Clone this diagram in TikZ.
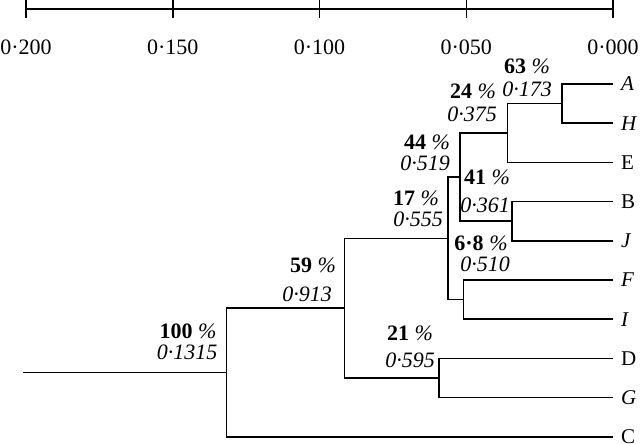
\documentclass[tikz,border=0pt]{standalone}
\usepackage{fontspec}
\setmainfont{Liberation Serif}
\begin{document}
\begin{tikzpicture}[x=1pt,y=-1pt,
  br/.style={line width=1.5pt},
  leaf/.style={anchor=west,inner xsep=8pt,inner ysep=0pt,font=\fontsize{21}{23}\selectfont},
  lab/.style={inner sep=0pt,font=\fontsize{22}{24}\selectfont},
  ax/.style={inner sep=0pt,font=\fontsize{22}{24}\selectfont}]
\useasboundingbox (0,0) rectangle (640,444);
% axis
\coordinate (a0) at (26,9);
\coordinate (a1) at (172.8,9);
\coordinate (a2) at (319.5,9);
\coordinate (a3) at (466.3,9);
\coordinate (a4) at (613,9);
\draw[br] (a0) -- (a4);
\foreach \i in {0,...,4}{\draw[br] ([yshift=9pt]a\i) -- ([yshift=-9pt]a\i);}
\node[ax] (t0) at (26,47) {0·200};
\node[ax] (t1) at (172.8,47) {0·150};
\node[ax] (t2) at (319.5,47) {0·100};
\node[ax] (t3) at (466.3,47) {0·050};
\node[ax] (t4) at (613,47) {0·000};
% leaves
\node[leaf] (A) at (613,84) {\textit{A}};
\node[leaf] (H) at (613,123.2) {\textit{H}};
\node[leaf] (E) at (613,162.4) {E};
\node[leaf] (B) at (613,201.6) {B};
\node[leaf] (J) at (613,240.8) {\textit{J}};
\node[leaf] (F) at (613,280) {\textit{F}};
\node[leaf] (I) at (613,319.2) {\textit{I}};
\node[leaf] (D) at (613,358.4) {D};
\node[leaf] (G) at (613,397.6) {\textit{G}};
\node[leaf] (C) at (613,436.8) {C};
% internal nodes
\coordinate (nAH) at (562,103.6);
\coordinate (nAHE) at (507.5,133);
\coordinate (nBJ) at (512,221.2);
\coordinate (n44) at (460,177.1);
\coordinate (nFI) at (463.5,299.6);
\coordinate (n17) at (448,238.4);
\coordinate (nDG) at (439,378);
\coordinate (n59) at (344.5,308.2);
\coordinate (nR) at (226.5,372.5);
\coordinate (r0) at (22.7,372.5);
% branches
\draw[br] (A.west) -| (nAH) |- (H.west);
\draw[br] (nAH) -| (nAHE) |- (E.west);
\draw[br] (B.west) -| (nBJ) |- (J.west);
\draw[br] (nAHE) -| (n44) |- (nBJ);
\draw[br] (F.west) -| (nFI) |- (I.west);
\draw[br] (n44) -| (n17) |- (nFI);
\draw[br] (D.west) -| (nDG) |- (G.west);
\draw[br] (n17) -| (n59) |- (nDG);
\draw[br] (n59) -| (nR) |- (C.west);
\draw[br] (r0) -- (nR);
% labels
\node[lab] (p63) at (527,66) {\textbf{63} \textit{\%}};
\node[lab] (v63) at (527,89) {\textit{0·173}};
\node[lab] (p24) at (473,91) {\textbf{24} \textit{\%}};
\node[lab] (v24) at (472,114) {\textit{0·375}};
\node[lab] (p44) at (427,142) {\textbf{44} \textit{\%}};
\node[lab] (v44) at (425,163) {\textit{0·519}};
\node[lab] (p41) at (487,177) {\textbf{41} \textit{\%}};
\node[lab] (v41) at (485,205) {\textit{0·361}};
\node[lab] (p17) at (416,198) {\textbf{17} \textit{\%}};
\node[lab] (v17) at (418,219) {\textit{0·555}};
\node[lab] (p68) at (481,243) {\textbf{6·8} \textit{\%}};
\node[lab] (v68) at (485,264) {\textit{0·510}};
\node[lab] (p59) at (313,265) {\textbf{59} \textit{\%}};
\node[lab] (v59) at (307,294) {\textit{0·913}};
\node[lab] (p100) at (188,331) {\textbf{100} \textit{\%}};
\node[lab] (v100) at (187,352) {\textit{0·1315}};
\node[lab] (p21) at (410,333) {\textbf{21} \textit{\%}};
\node[lab] (v21) at (410,360) {\textit{0·595}};
\end{tikzpicture}
\end{document}
